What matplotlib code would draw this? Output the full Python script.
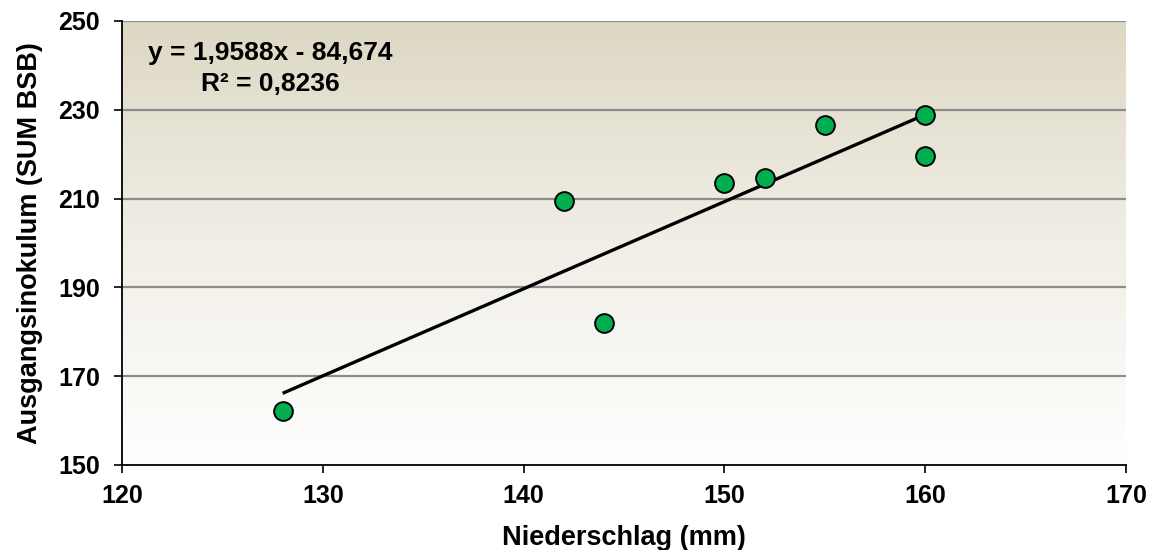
import numpy as np
import matplotlib
matplotlib.use("Agg")
import matplotlib.pyplot as plt
from matplotlib.colors import LinearSegmentedColormap

niederschlag = [128, 142, 144, 150, 152, 155, 160, 160]
inokulum = [162.2, 209.4, 182.0, 213.6, 214.6, 226.5, 228.8, 219.7]
x_ticks = [120, 130, 140, 150, 160, 170]
y_ticks = [150, 170, 190, 210, 230, 250]
equation_text = "y = 1,9588x - 84,674\nR² = 0,8236"

plt.rcParams['font.family'] = ['Liberation Sans', 'DejaVu Sans']
plt.rcParams['font.weight'] = 'bold'

fig = plt.figure(figsize=(11.53, 5.5), dpi=100)
ax = fig.add_axes([122/1153, 1 - 465/550, (1126-122)/1153, (465-21)/550])

# gradient background
cmap = LinearSegmentedColormap.from_list("bg", ["#ffffff", "#f1eee6", "#ddd8c4"])
grad = np.linspace(0, 1, 256).reshape(-1, 1)
ax.imshow(grad, extent=[0, 1, 0, 1], transform=ax.transAxes, origin='lower',
          cmap=cmap, aspect='auto', zorder=0)

ax.set_xlim(120, 170)
ax.set_ylim(150, 250)
ax.set_xticks(x_ticks)
ax.set_yticks(y_ticks)
ax.tick_params(axis='both', direction='out', length=6, width=1.2, labelsize=18)
ax.tick_params(axis='x', pad=8)
ax.tick_params(axis='y', pad=10)
for lab in ax.get_xticklabels() + ax.get_yticklabels():
    lab.set_fontweight('bold')

for yv in y_ticks[1:]:
    ax.axhline(yv, color='#8c8c8c', lw=1.6, zorder=1)

for s in ['top', 'right']:
    ax.spines[s].set_visible(False)
for s in ['left', 'bottom']:
    ax.spines[s].set_linewidth(1.3)
    ax.spines[s].set_color('black')

# trend line
coef = np.polyfit(niederschlag, inokulum, 1)
xt = np.array([min(niederschlag), max(niederschlag)])
ax.plot(xt, np.polyval(coef, xt), color='black', lw=2.4, zorder=3, solid_capstyle='butt')

ax.plot(niederschlag, inokulum, 'o', ms=13.5, mfc='#00b050', mec='black', mew=1.4, zorder=4)

ax.text(0.148, 0.955, equation_text, transform=ax.transAxes, ha='center', va='top',
        fontsize=19, fontweight='bold', linespacing=1.35, zorder=5)

ax.set_xlabel("Niederschlag (mm)", fontsize=19.5, fontweight='bold', labelpad=12)
ax.set_ylabel("Ausgangsinokulum (SUM BSB)", fontsize=19.5, fontweight='bold', labelpad=11)

fig.savefig("out.png", dpi=100)
